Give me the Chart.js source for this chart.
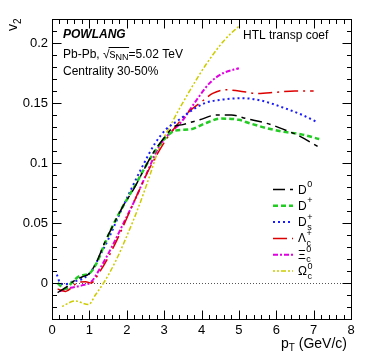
<!DOCTYPE html>
<html>
<head>
<meta charset="utf-8">
<script src="https://cdn.jsdelivr.net/npm/chart.js@4.4.1/dist/chart.umd.min.js"></script>
<style>
html, body { margin: 0; padding: 0; background: #fff; }
#wrap { width: 374px; height: 363px; }
</style>
</head>
<body>
<div id="wrap"><canvas id="c"></canvas></div>
<script>
// axis ticks
const xTicks = [0, 1, 2, 3, 4, 5, 6, 7, 8];
const xTickLabels = ['0', '1', '2', '3', '4', '5', '6', '7', '8'];
const yTicks = [0, 0.05, 0.1, 0.15, 0.2];
const yTickLabels = ['0', '0.05', '0.1', '0.15', '0.2'];

// D0
const ptD0 = [0.15, 0.4, 0.6, 0.8, 1.0, 1.2, 1.4, 1.6, 1.9, 2.2, 2.45, 2.7, 3.0, 3.25, 3.5, 3.95, 4.4, 4.8, 5.2, 5.75, 6.2, 6.65, 7.15];
const v2D0 = [-0.008, -0.003, 0.002, 0.005, 0.008, 0.018, 0.033, 0.046, 0.064, 0.079, 0.094, 0.108, 0.121, 0.130, 0.132, 0.136, 0.140, 0.140, 0.137, 0.133, 0.128, 0.122, 0.113];
// D+
const ptDp = [0.15, 0.35, 0.55, 0.75, 1.0, 1.2, 1.4, 1.6, 1.9, 2.2, 2.5, 2.8, 3.1, 3.3, 3.7, 4.1, 4.5, 5.0, 5.3, 5.75, 6.2, 6.65, 7.15];
const v2Dp = [0.0, -0.005, 0.001, 0.006, 0.008, 0.017, 0.032, 0.046, 0.064, 0.080, 0.097, 0.112, 0.123, 0.127, 0.128, 0.133, 0.137, 0.136, 0.133, 0.129, 0.126, 0.124, 0.120];
// Ds+
const ptDs = [0.13, 0.22, 0.35, 0.55, 0.9, 1.1, 1.3, 1.5, 1.8, 2.1, 2.4, 2.75, 3.05, 3.4, 3.7, 4.1, 4.6, 5.1, 5.6, 6.2, 6.7, 7.1];
const v2Ds = [0.007, 0.0, -0.001, 0.001, 0.005, 0.012, 0.024, 0.036, 0.057, 0.077, 0.096, 0.116, 0.128, 0.136, 0.143, 0.150, 0.153, 0.154, 0.152, 0.146, 0.140, 0.134];
// Lambda_c+
const ptLc = [0.15, 0.36, 0.67, 0.9, 1.05, 1.25, 1.5, 1.8, 2.0, 2.3, 2.6, 3.0, 3.3, 3.6, 4.0, 4.3, 4.65, 5.0, 5.5, 6.0, 6.5, 7.0];
const v2Lc = [-0.005, -0.007, 0.0, 0.001, 0.0, 0.008, 0.021, 0.040, 0.054, 0.075, 0.095, 0.117, 0.130, 0.141, 0.151, 0.158, 0.161, 0.160, 0.158, 0.159, 0.160, 0.160];
// Xi_c0
const ptXc = [0.2, 0.5, 0.8, 1.05, 1.3, 1.6, 1.9, 2.2, 2.5, 2.87, 3.15, 3.43, 3.88, 4.23, 4.59, 5.0];
const v2Xc = [-0.007, -0.004, -0.002, 0.001, 0.013, 0.030, 0.049, 0.068, 0.089, 0.114, 0.125, 0.133, 0.153, 0.167, 0.175, 0.179];
// Omega_c0
const ptOc = [0.27, 0.62, 0.98, 1.16, 1.38, 1.7, 2.0, 2.3, 2.6, 2.85, 3.25, 3.7, 4.14, 4.63, 5.0];
const v2Oc = [-0.0195, -0.015, -0.018, -0.01, 0.0, 0.018, 0.039, 0.062, 0.088, 0.111, 0.136, 0.161, 0.183, 0.203, 0.214];

const FONT = '"Liberation Sans", Arial, sans-serif';

function pts(xs, ys) {
	return xs.map((x, i) => ({ x: x, y: ys[i] }));
}

// legend labels: base, superscript, subscript
const legendItems = [
	{ base: 'D', sup: '0', sub: '' },
	{ base: 'D', sup: '+', sub: '' },
	{ base: 'D', sup: '+', sub: 's' },
	{ base: 'Λ', sup: '+', sub: 'c' },
	{ base: 'Ξ', sup: '0', sub: 'c' },
	{ base: 'Ω', sup: '0', sub: 'c' }
];

const datasets = [
	{ label: 'D0', data: pts(ptD0, v2D0), borderColor: '#000000', borderWidth: 1.5, borderDash: [12, 5, 4, 5] },
	{ label: 'D+', data: pts(ptDp, v2Dp), borderColor: '#22cc22', borderWidth: 2.5, borderDash: [5, 3] },
	{ label: 'Ds+', data: pts(ptDs, v2Ds), borderColor: '#1a1aff', borderWidth: 2, borderDash: [2, 3] },
	{ label: 'Lc+', data: pts(ptLc, v2Lc), borderColor: '#dd0000', borderWidth: 1.5, borderDash: [14, 5, 2, 5] },
	{ label: 'Xc0', data: pts(ptXc, v2Xc), borderColor: '#e000e0', borderWidth: 2, borderDash: [5, 2, 2, 2] },
	{ label: 'Oc0', data: pts(ptOc, v2Oc), borderColor: '#cccc00', borderWidth: 1.5, borderDash: [2, 2, 2, 2, 5, 2] }
];

// frame, ROOT-like inner ticks, texts and legend
const rootStyle = {
	id: 'rootStyle',
	beforeDatasetsDraw(chart) {
		const ctx = chart.ctx;
		const a = chart.chartArea;
		const y0 = Math.round(chart.scales.y.getPixelForValue(0)) + 0.5;
		ctx.save();
		ctx.strokeStyle = '#555';
		ctx.lineWidth = 1;
		ctx.setLineDash([1, 2]);
		ctx.beginPath();
		ctx.moveTo(a.left, y0);
		ctx.lineTo(a.right, y0);
		ctx.stroke();
		ctx.restore();
	},
	afterDatasetsDraw(chart) {
		const ctx = chart.ctx;
		const a = chart.chartArea;
		const sx = chart.scales.x;
		const sy = chart.scales.y;
		const L = Math.round(a.left) + 0.5, R = Math.round(a.right) + 0.5;
		const T = Math.round(a.top) + 0.5, B = Math.round(a.bottom) + 0.5;
		ctx.save();
		ctx.strokeStyle = '#000';
		ctx.lineWidth = 1;
		ctx.setLineDash([]);
		ctx.strokeRect(L, T, R - L, B - T);

		ctx.beginPath();
		// x ticks, every 0.2, major at integers
		for (let k = 0; k <= 40; k++) {
			const px = Math.round(sx.getPixelForValue(k * 0.2)) + 0.5;
			const len = (k % 5 === 0) ? 9 : 4.5;
			ctx.moveTo(px, B); ctx.lineTo(px, B - len);
			ctx.moveTo(px, T); ctx.lineTo(px, T + len);
		}
		// y ticks, every 0.01, major at 0.05
		for (let k = -3; k <= 22; k++) {
			const py = Math.round(sy.getPixelForValue(k * 0.01)) + 0.5;
			const len = (((k % 5) + 5) % 5 === 0) ? 9 : 4.5;
			ctx.moveTo(L, py); ctx.lineTo(L + len, py);
			ctx.moveTo(R, py); ctx.lineTo(R - len, py);
		}
		ctx.stroke();

		// texts
		ctx.fillStyle = '#000';
		ctx.textBaseline = 'alphabetic';
		ctx.textAlign = 'left';
		ctx.font = 'italic bold 12px ' + FONT;
		ctx.fillText('POWLANG', 63, 38);

		ctx.font = '12px ' + FONT;
		let x = 63;
		ctx.fillText('Pb-Pb, ', x, 57.5);
		x += ctx.measureText('Pb-Pb, ').width;
		ctx.fillText('√', x, 57.5);
		x += ctx.measureText('√').width;
		const ovStart = x - 1;
		ctx.fillText('s', x, 57.5);
		x += ctx.measureText('s').width;
		ctx.font = '9px ' + FONT;
		ctx.fillText('NN', x, 60);
		x += ctx.measureText('NN').width;
		ctx.beginPath();
		ctx.moveTo(ovStart, 47.5); ctx.lineTo(x + 0.5, 47.5);
		ctx.stroke();
		ctx.font = '12px ' + FONT;
		ctx.fillText('=5.02 TeV', x, 57.5);

		ctx.fillText('Centrality 30-50%', 63, 75);
		ctx.fillText('HTL transp coef', 243, 38.5);

		// x title
		ctx.font = '14px ' + FONT;
		ctx.textAlign = 'right';
		ctx.fillText(' (GeV/c)', 347, 348);
		const wRest = ctx.measureText(' (GeV/c)').width;
		ctx.font = '10px ' + FONT;
		const wT = ctx.measureText('T').width;
		ctx.fillText('T', 347 - wRest, 351);
		ctx.font = '14px ' + FONT;
		ctx.fillText('p', 347 - wRest - wT, 348);

		// y title
		ctx.save();
		ctx.translate(17, 31);
		ctx.rotate(-Math.PI / 2);
		ctx.textAlign = 'left';
		ctx.font = '14px ' + FONT;
		ctx.fillText('v', 0, 0);
		const wv = ctx.measureText('v').width;
		ctx.font = '10px ' + FONT;
		ctx.fillText('2', wv, 4);
		ctx.restore();

		// legend
		ctx.textAlign = 'left';
		legendItems.forEach((it, i) => {
			const ds = chart.data.datasets[i];
			const ly = 189.5 + i * 16.3;
			ctx.save();
			ctx.strokeStyle = ds.borderColor;
			ctx.lineWidth = ds.borderWidth;
			ctx.setLineDash(ds.borderDash);
			ctx.beginPath();
			ctx.moveTo(273, ly); ctx.lineTo(293, ly);
			ctx.stroke();
			ctx.restore();
			ctx.font = '12px ' + FONT;
			ctx.fillText(it.base, 298, ly + 4);
			const wb = ctx.measureText(it.base).width;
			ctx.font = '9px ' + FONT;
			ctx.fillText(it.sup, 298 + wb + 0.5, ly - 2.5);
			if (it.sub) ctx.fillText(it.sub, 298 + wb + 0.5, ly + 7.5);
		});
		ctx.restore();
	}
};

new Chart(document.getElementById('c'), {
	type: 'line',
	data: { datasets: datasets },
	options: {
		responsive: true,
		maintainAspectRatio: false,
		animation: false,
		devicePixelRatio: 1,
		layout: { padding: { top: 19, right: 23, left: 0, bottom: 0 } },
		plugins: {
			legend: { display: false },
			tooltip: { enabled: false }
		},
		elements: {
			point: { radius: 0 },
			line: { cubicInterpolationMode: 'monotone', fill: false }
		},
		scales: {
			x: {
				type: 'linear',
				min: 0,
				max: 8,
				afterFit: s => { s.height = 44; },
				afterBuildTicks: s => { s.ticks = xTicks.map(v => ({ value: v })); },
				grid: { display: false, drawTicks: false },
				border: { display: false },
				ticks: {
					color: '#000',
					font: { family: FONT, size: 13 },
					padding: 4,
					maxRotation: 0,
					autoSkip: false,
					callback: (v, i) => xTickLabels[i]
				}
			},
			y: {
				type: 'linear',
				min: -0.03,
				max: 0.22,
				afterFit: s => { s.width = 52; },
				afterBuildTicks: s => { s.ticks = yTicks.map(v => ({ value: v })); },
				grid: { display: false, drawTicks: false },
				border: { display: false },
				ticks: {
					color: '#000',
					font: { family: FONT, size: 13 },
					padding: 4,
					autoSkip: false,
					callback: (v, i) => yTickLabels[i]
				}
			}
		}
	},
	plugins: [rootStyle]
});
</script>
</body>
</html>
